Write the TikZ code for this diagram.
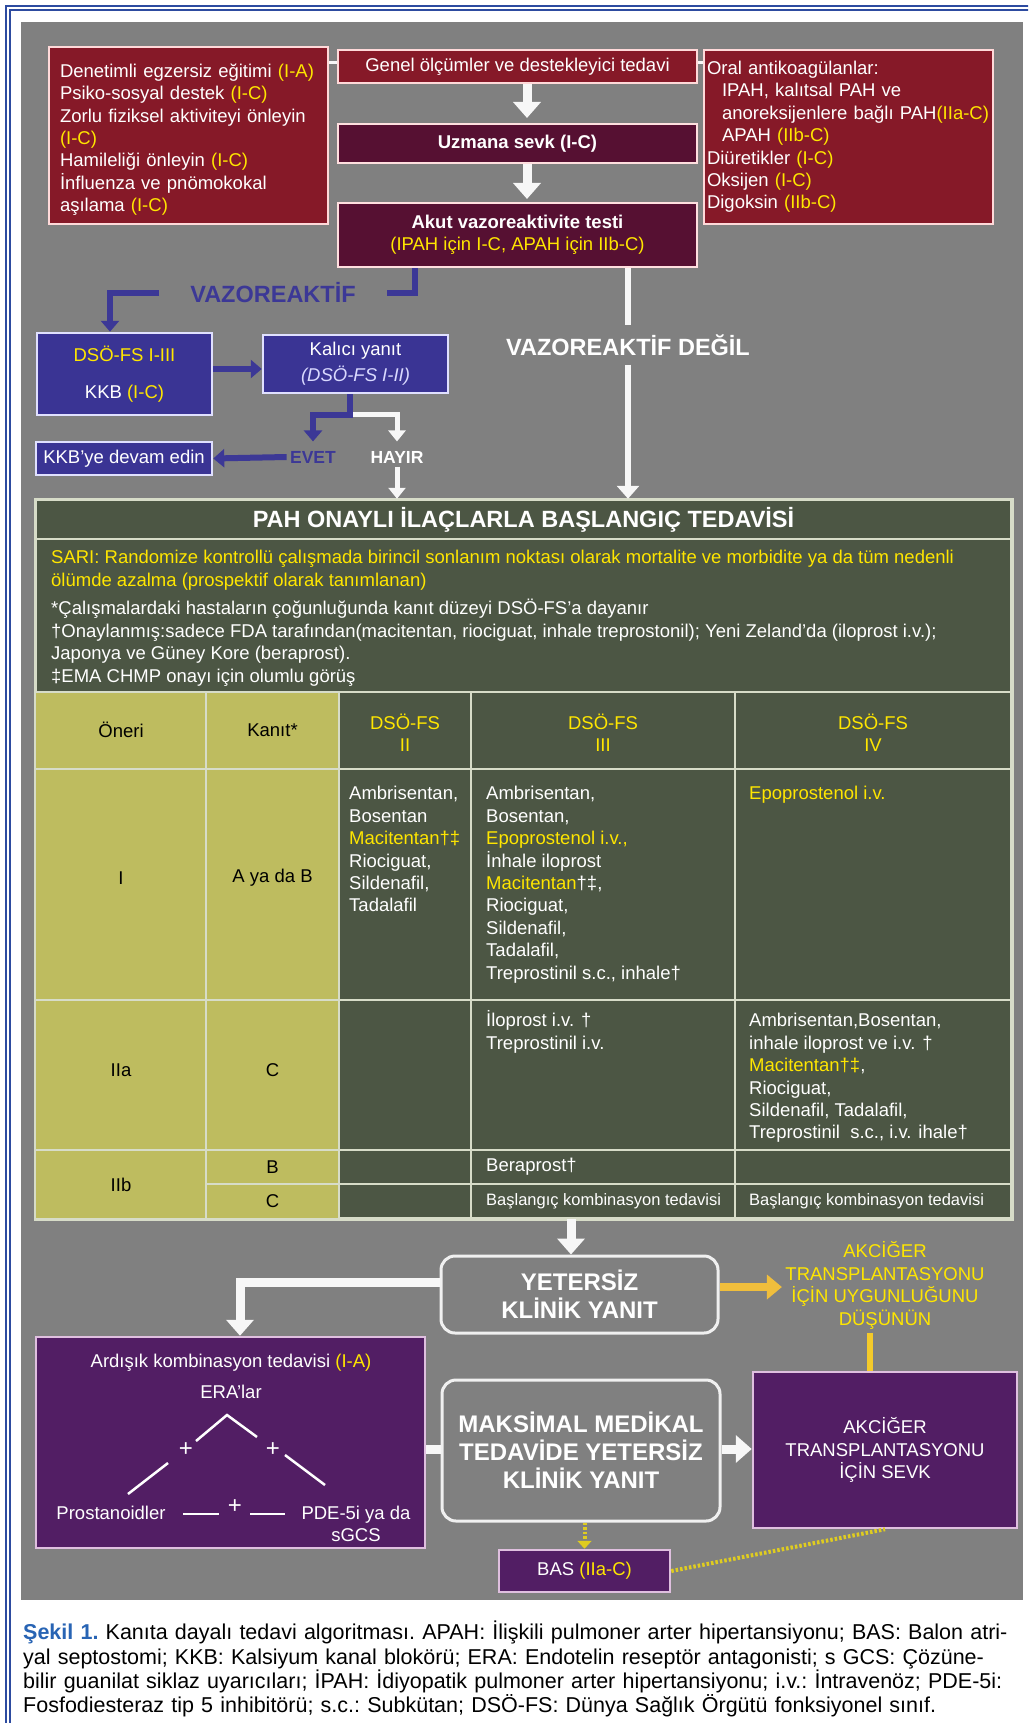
\documentclass[tikz,border=0pt]{standalone}
\usepackage{fontspec}
\setmainfont{Liberation Sans}
\usetikzlibrary{arrows.meta}

\definecolor{bggray}{RGB}{128,128,128}
\definecolor{boxred}{RGB}{134,25,40}
\definecolor{boxwine}{RGB}{86,16,50}
\definecolor{boxblue}{RGB}{58,52,148}
\definecolor{boxpurple}{RGB}{82,30,100}
\definecolor{panelgreen}{RGB}{76,86,68}
\definecolor{cellolive}{RGB}{190,188,95}
\definecolor{tablegray}{RGB}{215,220,200}
\definecolor{ylw}{RGB}{255,230,0}
\definecolor{arrowyellow}{RGB}{240,190,60}
\definecolor{framebl}{RGB}{45,75,160}
\definecolor{capblue}{RGB}{40,100,180}
\definecolor{vblue}{RGB}{60,56,150}

\newcommand\fnorm{\fontsize{18.5pt}{22.4pt}\selectfont}
\newcommand\fsmall{\fontsize{16.5pt}{20pt}\selectfont}
\newcommand\fhead{\fontsize{23.5pt}{28pt}\selectfont\bfseries}
\newcommand\fbig{\fontsize{24pt}{28pt}\selectfont\bfseries}
\newcommand\flab{\fontsize{17.5pt}{21pt}\selectfont\bfseries}
\newcommand\fcap{\fontsize{21.5pt}{24.3pt}\selectfont\frenchspacing\spaceskip=0.27em plus 0.4em minus 0.08em\relax}
\newcommand\yl[1]{\textcolor{ylw}{#1}}
\newcommand\hstr{\rule{0pt}{17pt}}
\newcommand\capline[1]{\leavevmode\hbox to 998pt{#1}}

\begin{document}
\begin{tikzpicture}[x=1pt,y=-1pt,font=\fnorm,
    redbox/.style={draw=pink!60!white,line width=2pt,fill=boxred,text=white,inner sep=0pt},
    winebox/.style={draw=pink!50!white,line width=2pt,fill=boxwine,text=white,inner sep=0pt},
    bluebox/.style={draw=blue!12!white,line width=2.5pt,fill=boxblue,text=white,inner sep=0pt},
    purplebox/.style={draw=violet!25!white,line width=2.5pt,fill=boxpurple,text=white,inner sep=0pt},
    roundbox/.style={draw=white!88!gray,line width=3pt,rounded corners=14pt,fill=bggray,text=white,inner sep=0pt,font=\fbig,align=center},
    panelbox/.style={draw=tablegray,line width=2.5pt,fill=panelgreen,inner sep=0pt},
    warrow/.style={draw=white!94!gray,line width=9pt,-{Triangle[width=27pt,length=16pt]}},
    wline/.style={draw=white!94!gray,line width=5pt},
    barrow/.style={draw=vblue,line width=6pt,-{Triangle[width=18pt,length=11pt]}},
    bline/.style={draw=vblue,line width=6pt},
    yarrow/.style={draw=arrowyellow,line width=8pt,-{Triangle[width=24pt,length=15pt]}},
    yline/.style={draw=arrowyellow!70!ylw,line width=6pt},
    ydots/.style={draw=ylw!75!bggray,line width=4pt,dash pattern=on 2.5pt off 2pt},
    tline/.style={draw=tablegray,line width=2.5pt},
    cell/.style={anchor=north west,inner sep=0pt,align=left,text=white},
  ]
  \useasboundingbox (0,0) rectangle (1028,1723);
  \clip (0,0) rectangle (1028,1723);
  \fill[white] (0,0) rectangle (1028,1723);
  \draw[framebl,line width=1.6pt] (6,1740) -- (6,6) -- (1040,6);
  \draw[framebl,line width=1.6pt] (10,1740) -- (10,10) -- (1040,10);
  \fill[bggray] (21,22) rectangle (1023,1600);

  % top row
  \node[redbox,minimum width=279pt,minimum height=177pt,text width=257pt,align=left] (lifestyle) at (188.5,135.5)
    {\rule{0pt}{22pt}Denetimli egzersiz eğitimi \yl{(I-A)}\\
     Psiko-sosyal destek \yl{(I-C)}\\
     Zorlu fiziksel aktiviteyi önleyin\\
     \yl{(I-C)}\\
     Hamileliği önleyin \yl{(I-C)}\\
     İnfluenza ve pnömokokal\\
     aşılama \yl{(I-C)}};
  \node[redbox,minimum width=359pt,minimum height=33pt] (genel) at (517.5,66.5) {Genel ölçümler ve destekleyici tedavi};
  \node[redbox,minimum width=289pt,minimum height=174pt,text width=283pt,align=left] (oral) at (848.5,137)
    {Oral antikoagülanlar:\\
     \hspace*{15pt}IPAH, kalıtsal PAH ve\\
     \hspace*{15pt}anoreksijenlere bağlı PAH\yl{(IIa-C)}\\
     \hspace*{15pt}APAH \yl{(IIb-C)}\\
     Diüretikler \yl{(I-C)}\\
     Oksijen \yl{(I-C)}\\
     Digoksin \yl{(IIb-C)}};
  \node[winebox,minimum width=359pt,minimum height=39pt,font=\fnorm\bfseries] (uzmana) at (517.5,143.5) {Uzmana sevk (I-C)};
  \node[winebox,minimum width=359pt,minimum height=64pt,align=center] (akut) at (517.5,235)
    {\textbf{Akut vazoreaktivite testi}\\ \yl{(IPAH için I-C, APAH için IIb-C)}};

  % vasoreactive branch
  \node[font=\fhead,text=vblue,inner xsep=31pt] (vazo) at (273,293) {VAZOREAKTİF};
  \node[font=\fhead,text=white,inner ysep=9pt] (vdegil) at (628,345) {VAZOREAKTİF DEĞİL};
  \node[bluebox,minimum width=175pt,minimum height=82pt,align=center] (dso) at (124.5,374)
    {\yl{DSÖ-FS I-III}\\[14pt] KKB \yl{(I-C)}};
  \node[bluebox,minimum width=185pt,minimum height=58pt,align=center] (kalici) at (355.5,364)
    {Kalıcı yanıt\\[4pt] \textcolor{white!85!blue}{\itshape(DSÖ-FS I-II)}};
  \node[bluebox,minimum width=176pt,minimum height=33pt] (kkb) at (124,458.5) {KKB’ye devam edin};
  \node[font=\flab,text=vblue] (evet) at (313,457) {EVET};
  \node[font=\flab,text=white] (hayir) at (397,457) {HAYIR};

  % treatment table
  \node[panelbox,minimum width=975pt,minimum height=718pt] (panel) at (523.5,859) {};
  \fill[cellolive] (36,692) rectangle (339,1218);
  \draw[tline] (36,539) -- (1011,539);
  \draw[tline] (36,692) -- (1011,692);
  \draw[tline] (36,769) -- (1011,769);
  \draw[tline] (36,1000) -- (1011,1000);
  \draw[tline] (36,1150) -- (1011,1150);
  \draw[tline] (206,1184) -- (1011,1184);
  \draw[tline] (206,692) -- (206,1218);
  \draw[tline] (339,692) -- (339,1218);
  \draw[tline] (471,692) -- (471,1218);
  \draw[tline] (735,692) -- (735,1218);
  \draw[tline] (panel.north west) rectangle (panel.south east);

  \node[font=\fhead,text=white] (title) at (523.5,520) {PAH ONAYLI İLAÇLARLA BAŞLANGIÇ TEDAVİSİ};
  \node[cell,text=ylw] (sari) at (51,546.6)
    {\hstr SARI: Randomize kontrollü çalışmada birincil sonlanım noktası olarak mortalite ve morbidite ya da tüm nedenli\\
     ölümde azalma (prospektif olarak tanımlanan)};
  \node[cell] (notes) at (51,597.6)
    {\hstr *Çalışmalardaki hastaların çoğunluğunda kanıt düzeyi DSÖ-FS’a dayanır\\
     †Onaylanmış:sadece FDA tarafından(macitentan, riociguat, inhale treprostonil); Yeni Zeland’da (iloprost i.v.);\\
     Japonya ve Güney Kore (beraprost).\\
     ‡EMA CHMP onayı için olumlu görüş};

  \node (oneri) at (121,730) {Öneri};
  \node (kanit) at (272.5,730) {Kanıt*};
  \node[text=ylw,align=center] (fs2) at (405,732.5) {DSÖ-FS\\II};
  \node[text=ylw,align=center] (fs3) at (603,732.5) {DSÖ-FS\\III};
  \node[text=ylw,align=center] (fs4) at (873,732.5) {DSÖ-FS\\IV};

  \node (rI) at (121,878) {I};
  \node (kAB) at (272.5,878) {A ya da B};
  \node (rIIa) at (121,1070) {IIa};
  \node (kC) at (272.5,1070) {C};
  \node (rIIb) at (121,1185) {IIb};
  \node (kB) at (272.5,1167) {B};
  \node (kCb) at (272.5,1201) {C};

  \node[cell] (r1c2) at (349,782.6)
    {\hstr Ambrisentan,\\ Bosentan\\ \yl{Macitentan†‡}\\ Riociguat,\\ Sildenafil,\\ Tadalafil};
  \node[cell] (r1c3) at (486,782.6)
    {\hstr Ambrisentan,\\ Bosentan,\\ \yl{Epoprostenol i.v.,}\\ İnhale iloprost\\ \yl{Macitentan}†‡,\\
     Riociguat,\\ Sildenafil,\\ Tadalafil,\\ Treprostinil s.c., inhale†};
  \node[cell,text=ylw] (r1c4) at (749,782.6) {\hstr Epoprostenol i.v.};
  \node[cell] (r2c3) at (486,1009.6) {\hstr İloprost i.v. †\\ Treprostinil i.v.};
  \node[cell] (r2c4) at (749,1009.6)
    {\hstr Ambrisentan,Bosentan,\\ inhale iloprost ve i.v. †\\ \yl{Macitentan†‡},\\ Riociguat,\\
     Sildenafil, Tadalafil,\\ Treprostinil\ \ s.c., i.v. ihale†};
  \node[anchor=west,inner sep=0pt,text=white] (r3c3) at (486,1167) {Beraprost†};
  \node[anchor=west,inner sep=0pt,text=white,font=\fsmall] (r4c3) at (486,1201) {Başlangıç kombinasyon tedavisi};
  \node[anchor=west,inner sep=0pt,text=white,font=\fsmall] (r4c4) at (749,1201) {Başlangıç kombinasyon tedavisi};

  % non-responders
  \node[roundbox,minimum width=277pt,minimum height=77pt] (yetersiz) at (579.5,1294.5) {YETERSİZ\\KLİNİK YANIT};
  \node[text=ylw,align=center] (uygun) at (885,1285.5)
    {AKCİĞER\\TRANSPLANTASYONU\\İÇİN UYGUNLUĞUNU\\DÜŞÜNÜN};
  \node[purplebox,minimum width=389pt,minimum height=211pt] (ardisik) at (230.5,1442.5) {};
  \node[text=white] (combo) at (231,1363) {Ardışık kombinasyon tedavisi \yl{(I-A)}};
  \node[text=white] (era) at (231,1392) {ERA’lar};
  \node[text=white] (prost) at (111,1513) {Prostanoidler};
  \node[text=white,align=center] (pde) at (356,1524) {PDE-5i ya da\\sGCS};
  \node[text=white,font=\fontsize{24pt}{24pt}\selectfont] (plusl) at (186,1450) {+};
  \node[text=white,font=\fontsize{24pt}{24pt}\selectfont] (plusr) at (273,1450) {+};
  \node[text=white,font=\fontsize{24pt}{24pt}\selectfont] (plusb) at (235,1507) {+};
  \draw[white,line width=2.5pt] (196,1441) -- (227,1415) -- (257,1437);
  \draw[white,line width=2.5pt] (168,1463) -- (128,1494);
  \draw[white,line width=2.5pt] (285,1455) -- (325,1485);
  \draw[white,line width=2.5pt] (183,1514) -- (219,1514);
  \draw[white,line width=2.5pt] (250,1514) -- (285,1514);
  \node[roundbox,minimum width=278pt,minimum height=141pt] (maksimal) at (581,1450.5)
    {MAKSİMAL MEDİKAL\\TEDAVİDE YETERSİZ\\KLİNİK YANIT};
  \node[purplebox,minimum width=264pt,minimum height=156pt,align=center] (sevk) at (885,1450)
    {AKCİĞER\\TRANSPLANTASYONU\\İÇİN SEVK};
  \node[purplebox,minimum width=171pt,minimum height=42pt] (bas) at (584.5,1571) {BAS \yl{(IIa-C)}};

  % connectors
  \draw[wline,line width=3pt] ([yshift=3.5pt]genel.west) -- ([yshift=3.5pt]genel.west -| lifestyle.east);
  \draw[wline,line width=3pt] ([yshift=3.5pt]genel.east) -- ([yshift=3.5pt]genel.east -| oral.west);
  \draw[warrow,shorten >=5pt] ([xshift=9.5pt]genel.south) -- ([xshift=9.5pt]uzmana.north);
  \draw[warrow,shorten >=3pt] ([xshift=9.5pt]uzmana.south) -- ([xshift=9.5pt]akut.north);
  \coordinate (vrtop) at ([xshift=-102.5pt]akut.south);
  \draw[bline] (vrtop) |- (vazo.east);
  \draw[barrow] (vazo.west) -| ([xshift=-14.5pt]dso.north);
  \coordinate (vdtop) at ([xshift=110.5pt]akut.south);
  \draw[wline,line width=6pt] (vdtop) -- (vdtop |- vdegil.north);
  \draw[wline,line width=6pt,-{Triangle[width=22pt,length=13pt]}] (vdtop |- vdegil.south) -- (vdtop |- panel.north);
  \draw[barrow] ([yshift=5pt]dso.east) -- ([yshift=5pt]dso.east -| kalici.west);
  \coordinate (kstem) at ([xshift=-5.5pt]kalici.south);
  \draw[wline,-{Triangle[width=17pt,length=11pt]},shorten >=6pt] ([yshift=-20pt]kstem) -| (hayir.north);
  \draw[barrow,shorten >=6pt] (kstem) -- ++(0,21) -| (evet.north);
  \draw[barrow] (evet.west) -- (kkb.east);
  \draw[wline,-{Triangle[width=17pt,length=11pt]}] (hayir.south) -- (hayir.south |- panel.north);
  \draw[warrow] ([xshift=-8.5pt]yetersiz.north |- panel.south) -- ([xshift=-8.5pt]yetersiz.north);
  \draw[warrow] ([yshift=12.5pt]yetersiz.west) -| ([xshift=9.5pt]ardisik.north);
  \draw[yarrow] ([yshift=7.5pt]yetersiz.east) -- ([yshift=7.5pt]yetersiz.east -| uygun.west);
  \draw[yline] ([xshift=-15pt]uygun.south) -- ([xshift=-15pt]sevk.north);
  \draw[wline,line width=9pt] ([yshift=-6.5pt]ardisik.east) -- ([yshift=-6.5pt]ardisik.east -| maksimal.west);
  \draw[warrow] ([yshift=1.5pt]maksimal.east) -- ([yshift=1.5pt]maksimal.east -| sevk.west);
  \draw[ydots,-{Triangle[width=14pt,length=8pt]}] (bas.north |- maksimal.south) -- (bas.north);
  \draw[ydots] (bas.east) -- (sevk.south);

  % caption
  \node[anchor=north west,inner sep=0pt,font=\fcap,align=left,text width=998pt] (caption) at (23,1621)
    {\hstr\capline{\textcolor{capblue}{\textbf{Şekil 1.}} Kanıta dayalı tedavi algoritması. APAH: İlişkili pulmoner arter hipertansiyonu; BAS: Balon atri-}\\
     \capline{yal septostomi; KKB: Kalsiyum kanal blokörü; ERA: Endotelin reseptör antagonisti; s GCS: Çözüne-}\\
     \capline{bilir guanilat siklaz uyarıcıları; İPAH: İdiyopatik pulmoner arter hipertansiyonu; i.v.: İntravenöz; PDE-5i:}\\
     Fosfodiesteraz tip 5 inhibitörü; s.c.: Subkütan; DSÖ-FS: Dünya Sağlık Örgütü fonksiyonel sınıf.};
\end{tikzpicture}
\end{document}
